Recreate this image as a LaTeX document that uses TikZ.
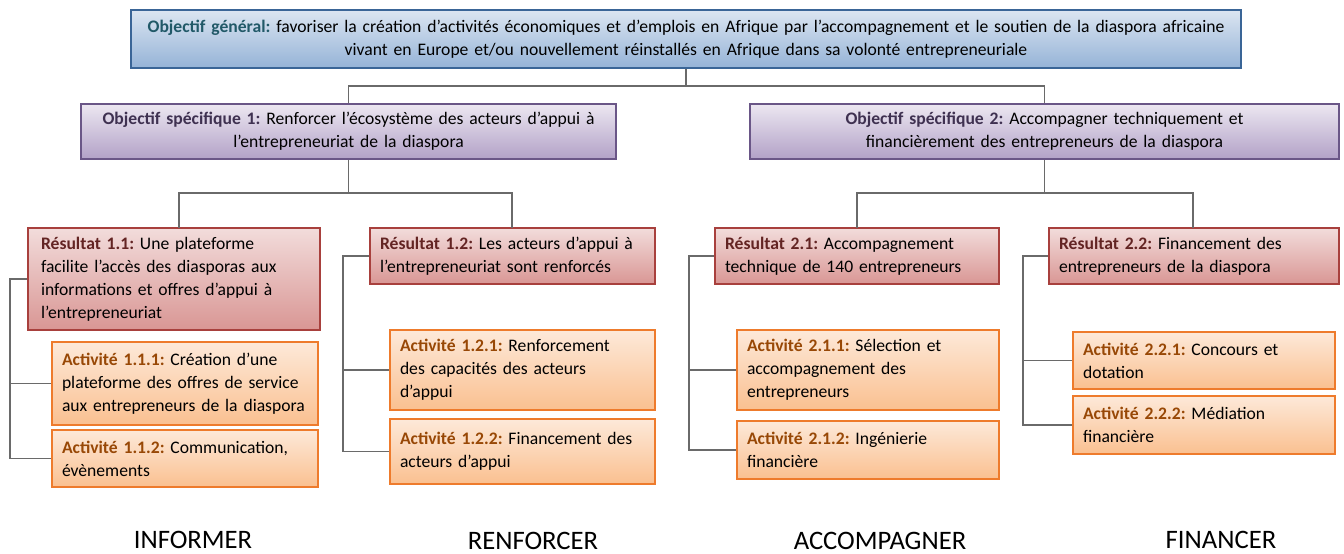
\documentclass[tikz,border=0pt]{standalone}
\usepackage{fontspec}
\setmainfont{Carlito}
\frenchspacing
\hyphenpenalty=10000
\exhyphenpenalty=10000
\definecolor{gtitle}{HTML}{215968}
\definecolor{ptitle}{HTML}{3F3151}
\definecolor{rtitle}{HTML}{632423}
\definecolor{atitle}{HTML}{984806}
\definecolor{gborder}{HTML}{3A6597}
\definecolor{pborder}{HTML}{6A5687}
\definecolor{rborder}{HTML}{A8403D}
\definecolor{aborder}{HTML}{EE7B2C}
\definecolor{link}{HTML}{6A6A6A}
\definecolor{gtop}{HTML}{DBE5F1}
\definecolor{gbot}{HTML}{95B3D7}
\definecolor{ptop}{HTML}{ECE7F1}
\definecolor{pbot}{HTML}{B2A1C7}
\definecolor{rtop}{HTML}{F2DCDB}
\definecolor{rbot}{HTML}{D99694}
\definecolor{atop}{HTML}{FDE9D9}
\definecolor{abot}{HTML}{FAC090}
\tikzset{
  boxbase/.style={draw, line width=1.3pt, rectangle, inner ysep=0pt,
    font=\fontsize{13.2}{17.25}\selectfont},
  genbox/.style={boxbase, draw=gborder, top color=gtop, bottom color=gbot, align=center},
  osbox/.style={boxbase, draw=pborder, top color=ptop, bottom color=pbot, align=center},
  resbox/.style={boxbase, draw=rborder, top color=rtop, bottom color=rbot, align=left},
  actbox/.style={boxbase, draw=aborder, top color=atop, bottom color=abot, align=left},
  conn/.style={draw=link, line width=1.1pt},
  verb/.style={font=\fontsize{20}{24}\selectfont, anchor=base}
}
% name, style, x1, y1, x2, y2, padding(px), text
\newcommand\mybox[8]{%
  \pgfmathsetmacro\bw{(#5-#3)*0.75}%
  \pgfmathsetmacro\bh{(#6-#4)*0.75}%
  \pgfmathsetmacro\bp{#7*0.75}%
  \pgfmathsetmacro\tw{\bw-2*\bp}%
  \node[#2, minimum width=\bw pt, minimum height=\bh pt, inner xsep=\bp pt, text width=\tw pt]
    (#1) at ({(#3+#5)/2},{(#4+#6)/2}) {#8};%
}
\begin{document}
\begin{tikzpicture}[x=0.75pt, y=-0.75pt]
\useasboundingbox (0,0) rectangle (1344,553);

\mybox{gen}{genbox}{131}{10}{1241}{68}{3}{\textbf{\color{gtitle}Objectif général:} favoriser la création d’activités économiques et d’emplois en Afrique par l’accompagnement et le soutien de la diaspora africaine\\ vivant en Europe et/ou nouvellement réinstallés en Afrique dans sa volonté entrepreneuriale}

\mybox{os1}{osbox}{81}{104}{616}{159}{6}{\textbf{\color{ptitle}Objectif spécifique 1:} Renforcer l’écosystème des acteurs d’appui à\\ l’entrepreneuriat de la diaspora}
\mybox{os2}{osbox}{750}{104}{1339}{159}{6}{\textbf{\color{ptitle}Objectif spécifique 2:} Accompagner techniquement et\\ financièrement des entrepreneurs de la diaspora}

\mybox{r11}{resbox}{28}{228}{320}{330}{13}{\textbf{\color{rtitle}Résultat 1.1:} Une plateforme\\ facilite l’accès des diasporas aux\\ informations et offres d’appui à\\ l’entrepreneuriat}
\mybox{r12}{resbox}{370}{228}{655}{284}{10}{\textbf{\color{rtitle}Résultat 1.2:} Les acteurs d’appui à\\ l’entrepreneuriat sont renforcés}
\mybox{r21}{resbox}{715}{228}{999}{284}{10}{\textbf{\color{rtitle}Résultat 2.1:} Accompagnement\\ technique de 140 entrepreneurs}
\mybox{r22}{resbox}{1049}{228}{1339}{284}{10}{\textbf{\color{rtitle}Résultat 2.2:} Financement des\\ entrepreneurs de la diaspora}

\mybox{a111}{actbox}{52}{342}{318}{425}{10}{\textbf{\color{atitle}Activité 1.1.1:} Création d’une\\ plateforme des offres de service\\ aux entrepreneurs de la diaspora}
\mybox{a112}{actbox}{52}{430}{318}{487}{10}{\textbf{\color{atitle}Activité 1.1.2:} Communication,\\ évènements}
\mybox{a121}{actbox}{390}{330}{655}{410}{10}{\textbf{\color{atitle}Activité 1.2.1:} Renforcement\\ des capacités des acteurs\\ d’appui}
\mybox{a122}{actbox}{390}{419}{655}{484}{10}{\textbf{\color{atitle}Activité 1.2.2:} Financement des\\ acteurs d’appui}
\mybox{a211}{actbox}{737}{330}{999}{410}{10}{\textbf{\color{atitle}Activité 2.1.1:} Sélection et\\ accompagnement des\\ entrepreneurs}
\mybox{a212}{actbox}{737}{421}{999}{479}{10}{\textbf{\color{atitle}Activité 2.1.2:} Ingénierie\\ financière}
\mybox{a221}{actbox}{1073}{332}{1335}{389}{10}{\textbf{\color{atitle}Activité 2.2.1:} Concours et\\ dotation}
\mybox{a222}{actbox}{1073}{396}{1335}{454}{10}{\textbf{\color{atitle}Activité 2.2.2:} Médiation\\ financière}

% top-level tree
\coordinate (busg) at (0,86);
\coordinate (bus1) at (0,193);
\coordinate (bus2) at (0,193);
\coordinate (t11) at (179,228);
\coordinate (t12) at (512,228);
\coordinate (t21) at (857,228);
\coordinate (t22) at (1193,228);
\draw[conn] (gen.south) -- (gen.south |- busg) -| (os1.north);
\draw[conn] (gen.south |- busg) -| (os2.north);
\draw[conn] (os1.south) -- (os1.south |- bus1) -| (t11);
\draw[conn] (os1.south |- bus1) -| (t12);
\draw[conn] (os2.south) -- (os2.south |- bus2) -| (t21);
\draw[conn] (os2.south |- bus2) -| (t22);

% side buses
\coordinate (s11) at (10,0);
\coordinate (s12) at (343,0);
\coordinate (s21) at (689,0);
\coordinate (s22) at (1023,0);
\draw[conn] (r11.west) -- (r11.west -| s11) |- (a112.west);
\draw[conn] (a111.west) -- (a111.west -| s11);
\draw[conn] (r12.west) -- (r12.west -| s12) |- (a122.west);
\draw[conn] (a121.west) -- (a121.west -| s12);
\draw[conn] (r21.west) -- (r21.west -| s21) |- (a212.west);
\draw[conn] (a211.west) -- (a211.west -| s21);
\draw[conn] (r22.west) -- (r22.west -| s22) |- (a222.west);
\draw[conn] (a221.west) -- (a221.west -| s22);

% bottom verbs
\node[verb] (v1) at (193,548) {INFORMER};
\node[verb] (v2) at (533,549) {RENFORCER};
\node[verb] (v3) at (880,549) {ACCOMPAGNER};
\node[verb] (v4) at (1221,548) {FINANCER};
\end{tikzpicture}
\end{document}
